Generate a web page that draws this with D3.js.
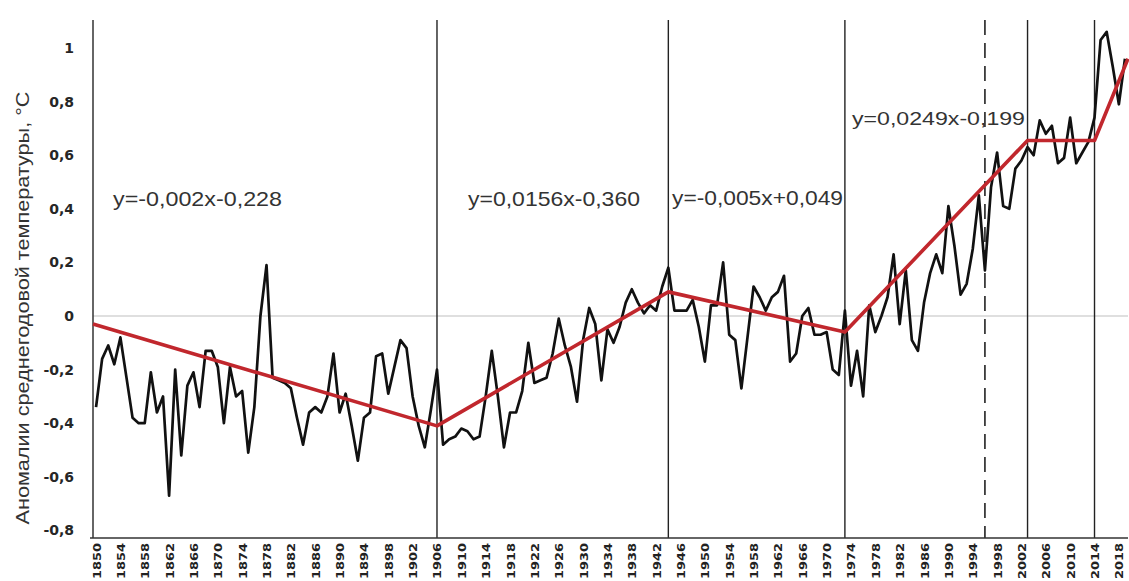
<!DOCTYPE html>
<html><head><meta charset="utf-8">
<script src="https://cdn.jsdelivr.net/npm/d3@7"></script>
<style>body{margin:0;background:#fff}svg{display:block}</style>
</head><body><svg id="c" width="1129" height="581"></svg>
<script>
// ---- data ----
const years = d3.range(1850, 2020);
const anomalies = [
 -0.34,-0.16,-0.11,-0.18,-0.08,-0.23,-0.38,-0.40,-0.40,-0.21,
 -0.36,-0.30,-0.67,-0.20,-0.52,-0.26,-0.21,-0.34,-0.13,-0.13,
 -0.19,-0.40,-0.19,-0.30,-0.28,-0.51,-0.34,0.00,0.19,-0.23,
 -0.24,-0.25,-0.27,-0.38,-0.48,-0.36,-0.34,-0.36,-0.30,-0.14,
 -0.36,-0.29,-0.41,-0.54,-0.38,-0.36,-0.15,-0.14,-0.29,-0.19,
 -0.09,-0.12,-0.30,-0.41,-0.49,-0.35,-0.20,-0.48,-0.46,-0.45,
 -0.42,-0.43,-0.46,-0.45,-0.30,-0.13,-0.30,-0.49,-0.36,-0.36,
 -0.28,-0.10,-0.25,-0.24,-0.23,-0.14,-0.01,-0.11,-0.19,-0.32,
 -0.09,0.03,-0.03,-0.24,-0.05,-0.10,-0.04,0.05,0.10,0.05,
 0.01,0.04,0.02,0.11,0.18,0.02,0.02,0.02,0.06,-0.04,
 -0.17,0.04,0.04,0.20,-0.07,-0.09,-0.27,-0.08,0.11,0.07,
 0.02,0.07,0.09,0.15,-0.17,-0.14,0.00,0.03,-0.07,-0.07,
 -0.06,-0.20,-0.22,0.02,-0.26,-0.13,-0.30,0.04,-0.06,0.00,
 0.07,0.23,-0.03,0.17,-0.09,-0.13,0.05,0.16,0.23,0.16,
 0.41,0.26,0.08,0.12,0.25,0.45,0.17,0.48,0.61,0.41,
 0.40,0.55,0.58,0.63,0.60,0.73,0.68,0.71,0.57,0.59,
 0.74,0.57,0.61,0.65,0.74,1.03,1.06,0.93,0.79,0.96
];
const trendYears  = [1849.5, 1906, 1944, 1973, 2003, 2014, 2019.5];
const trendValues = [-0.03, -0.41, 0.09, -0.06, 0.655, 0.655, 0.96];
const breakYears  = [1906, 1944, 1973, 2003, 2014];
const dashedYears = [1996];
const yTickValues = [-0.8, -0.6, -0.4, -0.2, 0, 0.2, 0.4, 0.6, 0.8, 1];
const xTickYears  = d3.range(1850, 2019, 4);
const equations   = ["y=-0,002x-0,228", "y=0,0156x-0,360", "y=-0,005x+0,049", "y=0,0249x-0,199"];
const yTitle = "Аномалии среднегодовой температуры, °C";

// ---- layout ----
const svg = d3.select("#c");
svg.append("rect").attr("width",1129).attr("height",581).attr("fill","#fff");
const x = d3.scaleLinear().domain([1849.5, 2019.5]).range([93, 1128]);
const y = d3.scaleLinear().domain([-0.8, 1]).range([530.4, 48]);
const axisBottomY = 538, lineTop = 20;

const ru = d3.formatLocale({decimal:",", thousands:" ", grouping:[3], currency:["",""], minus:"-"});
const fmt = ru.format(".1~f");

// zero gridline
svg.append("line").attr("x1",93).attr("x2",1128).attr("y1",y(0)).attr("y2",y(0))
  .attr("stroke","#d4d4d4").attr("stroke-width",1.5);

// vertical break lines
svg.selectAll(".vb").data(breakYears).join("line").attr("class","vb")
  .attr("x1",d=>x(d)).attr("x2",d=>x(d)).attr("y1",lineTop).attr("y2",axisBottomY)
  .attr("stroke","#222").attr("stroke-width",1.4);
svg.selectAll(".vd").data(dashedYears).join("line").attr("class","vd")
  .attr("x1",d=>x(d)).attr("x2",d=>x(d)).attr("y1",lineTop).attr("y2",axisBottomY)
  .attr("stroke","#222").attr("stroke-width",1.6).attr("stroke-dasharray","15,8");

// axes
const yAxis = svg.append("g").attr("transform","translate(93,0)")
  .call(d3.axisLeft(y).tickValues(yTickValues).tickSize(0).tickPadding(19).tickFormat(fmt));
yAxis.select(".domain").remove();
yAxis.selectAll("text").attr("font-family","DejaVu Sans").attr("font-weight","bold")
  .attr("font-size",14).attr("fill","#262626");
svg.append("line").attr("x1",93).attr("x2",93).attr("y1",lineTop).attr("y2",axisBottomY)
  .attr("stroke","#333").attr("stroke-width",1.5);

const xAxis = svg.append("g").attr("transform",`translate(0,${axisBottomY})`)
  .call(d3.axisBottom(x).tickValues(xTickYears).tickSize(0).tickFormat(d3.format("d")));
xAxis.select(".domain").remove();
xAxis.selectAll("text")
  .attr("transform","rotate(-90)").attr("x",-5).attr("y",0).attr("dy","0.36em")
  .style("text-anchor","end")
  .attr("font-family","DejaVu Sans").attr("font-weight","bold").attr("font-size",11)
  .attr("fill","#222").attr("textLength",36).attr("lengthAdjust","spacingAndGlyphs");
svg.append("line").attr("x1",90).attr("x2",1128).attr("y1",axisBottomY).attr("y2",axisBottomY)
  .attr("stroke","#333").attr("stroke-width",1.5);

// y title
svg.append("text").attr("transform","translate(22,308) rotate(-90)")
  .attr("text-anchor","middle").attr("dy","0.35em")
  .attr("font-family","Liberation Sans").attr("font-size",19).attr("fill","#333")
  .attr("textLength",433).attr("lengthAdjust","spacingAndGlyphs").text(yTitle);

// data line
const line = d3.line().x((d,i)=>x(years[i])).y(d=>y(d));
svg.append("path").datum(anomalies).attr("d",line).attr("fill","none")
  .attr("stroke","#111").attr("stroke-width",2.7).attr("stroke-linejoin","round");

// trend line
const tline = d3.line().x((d,i)=>x(trendYears[i])).y(d=>y(d));
svg.append("path").datum(trendValues).attr("d",tline).attr("fill","none")
  .attr("stroke","#c1272d").attr("stroke-width",3.6).attr("stroke-linejoin","round");

// equation labels
const eqLayout = [
  {x:113, y:206, size:21, len:169},
  {x:468, y:206, size:21, len:172},
  {x:672, y:205, size:21, len:171},
  {x:852, y:125, size:19, len:173}
];
svg.selectAll(".eq").data(equations).join("text").attr("class","eq")
  .attr("x",(d,i)=>eqLayout[i].x).attr("y",(d,i)=>eqLayout[i].y)
  .attr("font-family","Liberation Sans").attr("font-size",(d,i)=>eqLayout[i].size)
  .attr("fill","#333").attr("textLength",(d,i)=>eqLayout[i].len)
  .attr("lengthAdjust","spacingAndGlyphs").text(d=>d);
</script></body></html>
